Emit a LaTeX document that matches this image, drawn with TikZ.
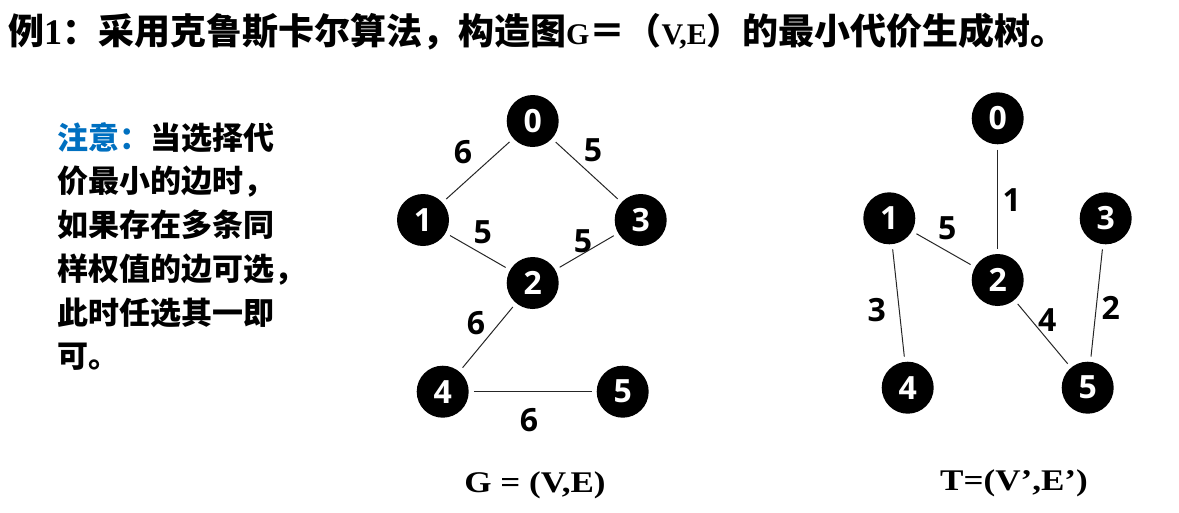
\documentclass[tikz,border=0pt]{standalone}
\usepackage{fontspec}
\setmainfont{Liberation Serif}
\newfontfamily\cjk{Noto Sans CJK SC}
\newfontfamily\tnr{Liberation Serif}
\newfontfamily\dig{Open Sans}
\definecolor{noteblue}{HTML}{0070C0}
\newcommand\tcj{\cjk\bfseries\fontsize{36}{36}\selectfont}
\newcommand\tlt{\tnr\bfseries\fontsize{30}{30}\selectfont}
\newcommand\tone{\tnr\bfseries\fontsize{36}{36}\selectfont}
\begin{document}
\begin{tikzpicture}[x=1pt,y=-1pt,
  vtx/.style={circle,fill=black,minimum size=52pt,inner sep=0pt,text=white,
    font=\dig\bfseries\fontsize{32}{32}\selectfont},
  wlab/.style={inner sep=0pt,font=\dig\bfseries\fontsize{32}{32}\selectfont},
  edge/.style={line width=1pt,black!85,shorten <=5pt,shorten >=5pt},
  note/.style={anchor=west,inner sep=0pt,font=\cjk\bfseries\fontsize{31}{31}\selectfont},
  captxt/.style={inner sep=0pt,font=\tnr\bfseries\fontsize{30}{30}\selectfont}]
\useasboundingbox (0,0) rectangle (1179,512);
% title
\node[anchor=base west,inner sep=0pt] (title) at (8,44)
  {\tcj 例\tone 1\tcj ：采用克鲁斯卡尔算法，构造图\tlt G\tcj ＝（\tlt V,E\tcj ）的最小代价生成树。};
% note
\node[note] (n1) at (57,138) {{\color{noteblue}注意：}当选择代};
\node[note] (n2) at (57,182) {价最小的边时，};
\node[note] (n3) at (57,225) {如果存在多条同};
\node[note] (n4) at (57,270) {样权值的边可选，};
\node[note] (n5) at (57,313) {此时任选其一即};
\node[note] (n6) at (57,357) {可。};
% left graph
\node[vtx] (a0) at (532.7,121) {0};
\node[vtx] (a1) at (423,220) {1};
\node[vtx] (a3) at (640.7,220) {3};
\node[vtx] (a2) at (532.7,283) {2};
\node[vtx] (a4) at (442.7,391.7) {4};
\node[vtx] (a5) at (622.7,391.7) {5};
\draw[edge] (a0) -- (a1);
\draw[edge] (a0) -- (a3);
\draw[edge] (a1) -- (a2);
\draw[edge] (a3) -- (a2);
\draw[edge] (a2) -- (a4);
\draw[edge] (a4) -- (a5);
\node[wlab] (la01) at (463,152) {6};
\node[wlab] (la03) at (593,150) {5};
\node[wlab] (la12) at (482.7,232) {5};
\node[wlab] (la32) at (583,241) {5};
\node[wlab] (la24) at (476,323) {6};
\node[wlab] (la45) at (529,420) {6};
% right tree
\node[vtx] (b0) at (997.7,118.3) {0};
\node[vtx] (b1) at (889.3,218.3) {1};
\node[vtx] (b3) at (1105.7,218.3) {3};
\node[vtx] (b2) at (997.7,280) {2};
\node[vtx] (b4) at (907.7,387.7) {4};
\node[vtx] (b5) at (1087.7,387.7) {5};
\draw[edge] (b0) -- (b2);
\draw[edge] (b1) -- (b2);
\draw[edge] (b1) -- (b4);
\draw[edge] (b2) -- (b5);
\draw[edge] (b3) -- (b5);
\node[wlab] (lb02) at (1011.7,200) {1};
\node[wlab] (lb12) at (947.3,228) {5};
\node[wlab] (lb14) at (876.7,310) {3};
\node[wlab] (lb25) at (1047.3,320) {4};
\node[wlab] (lb35) at (1110.7,308) {2};
% captions
\node[captxt] (capG) at (535,485) {\scalebox{1.17}[1]{G = (V,E)}};
\node[captxt] (capT) at (1014,483) {\scalebox{1.17}[1]{T=(V’,E’)}};
\end{tikzpicture}
\end{document}
